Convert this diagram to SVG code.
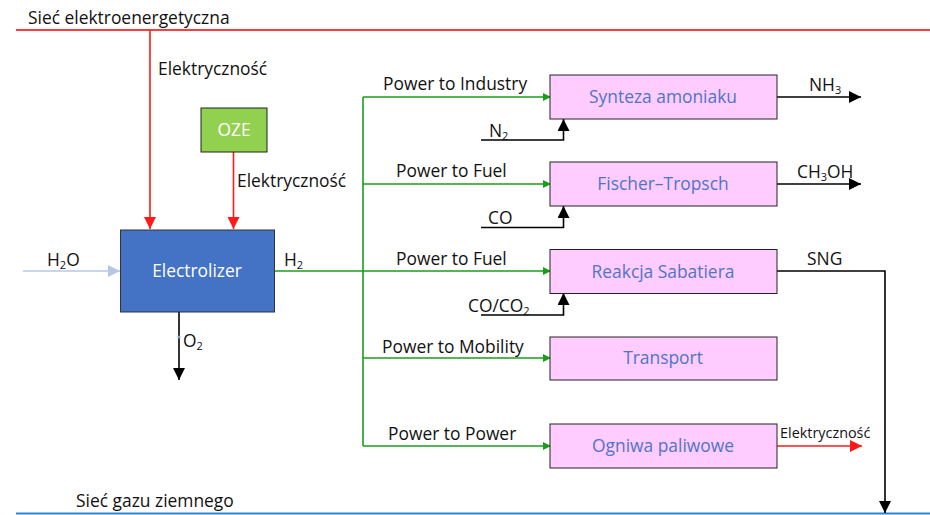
<svg xmlns="http://www.w3.org/2000/svg" width="930" height="515" viewBox="0 0 930 515">
<defs>
<style>
text{font-family:"Open Sans","Liberation Sans",Arial,sans-serif;font-size:17.4px;fill:#111}
.sub{font-size:11px}
.box{fill:#ffccff;stroke:#222;stroke-width:1}
.bt{fill:#4f74c8;font-size:17.4px;text-anchor:middle}
.g{stroke:#1a9e1a;stroke-width:1.6;fill:none}
.r{stroke:#ff1a1a;stroke-width:1.6;fill:none}
.k{stroke:#000;stroke-width:1.6;fill:none}
</style>
<marker id="ag" markerWidth="8" markerHeight="8" refX="7" refY="4" orient="auto" markerUnits="userSpaceOnUse"><path d="M0,0 L8,4 L0,8 z" fill="#1a9e1a"/></marker>
<marker id="ar" markerWidth="12" markerHeight="12" refX="12" refY="6" orient="auto" markerUnits="userSpaceOnUse"><path d="M0,0 L12,6 L0,12 z" fill="#ff1a1a"/></marker>
<marker id="ak" markerWidth="12" markerHeight="12" refX="12" refY="6" orient="auto" markerUnits="userSpaceOnUse"><path d="M0,0 L12,6 L0,12 z" fill="#000"/></marker>
<marker id="ab" markerWidth="12" markerHeight="12" refX="12" refY="6" orient="auto" markerUnits="userSpaceOnUse"><path d="M0,0 L12,6 L0,12 z" fill="#b4c7e7"/></marker>
</defs>

<g id="grid-power">
<line x1="16" y1="30" x2="930" y2="30" stroke="#ff3b3b" stroke-width="2"/>
<text x="28" y="24">Sieć elektroenergetyczna</text>
</g>
<g id="grid-gas">
<line x1="16" y1="513.5" x2="930" y2="513.5" stroke="#2e86d0" stroke-width="2"/>
<text x="76" y="507">Sieć gazu ziemnego</text>
</g>

<g id="connectors">
<path class="r" d="M150,30 V229" marker-end="url(#ar)"/>
<path class="r" d="M233.5,152 V229" marker-end="url(#ar)"/>
<path d="M23,271 H120" stroke="#b4c7e7" stroke-width="1.6" fill="none" marker-end="url(#ab)"/>
<path class="k" d="M179,312 V380" marker-end="url(#ak)"/>
<circle cx="179" cy="337" r="1.6" fill="#7fa3d9"/>
<path class="g" d="M274,271 H550" marker-end="url(#ag)"/>
<path class="g" d="M363,97 V446"/>
<path class="g" d="M363,97 H550" marker-end="url(#ag)"/>
<path class="g" d="M363,184 H550" marker-end="url(#ag)"/>
<path class="g" d="M363,358 H550" marker-end="url(#ag)"/>
<path class="g" d="M363,446 H550" marker-end="url(#ag)"/>
<path class="k" d="M481,140 H563.5 V119" marker-end="url(#ak)"/>
<path class="k" d="M481,227.5 H563.5 V206" marker-end="url(#ak)"/>
<path class="k" d="M481,315 H563.5 V293" marker-end="url(#ak)"/>
<path class="k" d="M777,97 H861" marker-end="url(#ak)"/>
<path class="k" d="M777,184 H861" marker-end="url(#ak)"/>
<path class="k" d="M777,271 H885 V513" marker-end="url(#ak)"/>
<path class="r" d="M777,446 H862" marker-end="url(#ar)"/>

<text x="158" y="75">Elektryczność</text>
<text x="237" y="187">Elektryczność</text>
<text x="47" y="266">H<tspan class="sub" dy="3">2</tspan><tspan dy="-3">O</tspan></text>
<text x="284" y="266">H<tspan class="sub" dy="3">2</tspan></text>
<text x="183" y="347">O<tspan class="sub" dy="3">2</tspan></text>
<text x="383" y="90">Power to Industry</text>
<text x="396" y="177">Power to Fuel</text>
<text x="396" y="265">Power to Fuel</text>
<text x="382" y="353">Power to Mobility</text>
<text x="388" y="440">Power to Power</text>
<text x="489" y="137">N<tspan class="sub" dy="3">2</tspan></text>
<text x="488" y="224">CO</text>
<text x="468" y="312">CO/CO<tspan class="sub" dy="3">2</tspan></text>
<text x="809" y="91">NH<tspan class="sub" dy="3">3</tspan></text>
<text x="797" y="178">CH<tspan class="sub" dy="3">3</tspan><tspan dy="-3">OH</tspan></text>
<text x="807" y="265">SNG</text>
<text x="780" y="438" style="font-size:14.4px">Elektryczność</text>
</g>

<g id="oze">
<rect x="201" y="108" width="66" height="44" fill="#92d050" stroke="#222" stroke-width="1"/>
<text x="234" y="136" style="fill:#fff;font-size:17.4px;text-anchor:middle">OZE</text>
</g>
<g id="electrolizer">
<rect x="120.5" y="230" width="154" height="82" fill="#4472c4" stroke="#333" stroke-width="1"/>
<text x="197" y="277" style="fill:#fff;font-size:17.4px;text-anchor:middle">Electrolizer</text>
</g>
<g id="synteza">
<rect class="box" x="550" y="75" width="227" height="44"/>
<text class="bt" x="663" y="103">Synteza amoniaku</text>
</g>
<g id="fischer">
<rect class="box" x="550" y="162" width="227" height="44"/>
<text class="bt" x="663" y="190">Fischer–Tropsch</text>
</g>
<g id="sabatier">
<rect class="box" x="550" y="249.5" width="227" height="44"/>
<text class="bt" x="663" y="278">Reakcja Sabatiera</text>
</g>
<g id="transport">
<rect class="box" x="550" y="337" width="227" height="43"/>
<text class="bt" x="663" y="364">Transport</text>
</g>
<g id="ogniwa">
<rect class="box" x="550" y="424" width="227" height="44"/>
<text class="bt" x="663" y="452">Ogniwa paliwowe</text>
</g>
</svg>
